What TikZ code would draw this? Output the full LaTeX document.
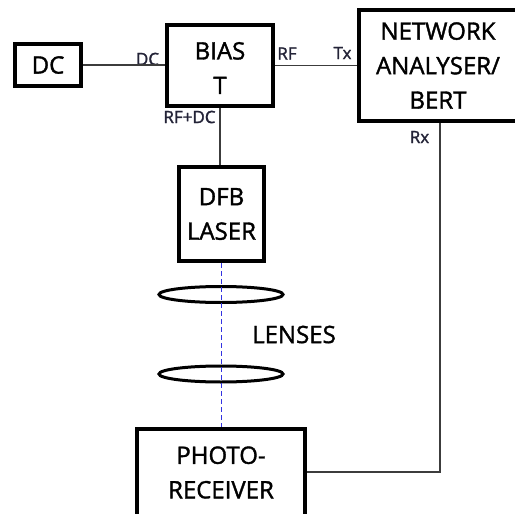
\documentclass[tikz,border=0pt]{standalone}
\usepackage{fontspec}
\setmainfont{Open Sans}[FakeBold=1.5]
\usetikzlibrary{positioning, shapes.geometric}

\definecolor{wiregray}{RGB}{60,60,60}
\definecolor{beamblue}{RGB}{50,50,225}
\definecolor{portink}{RGB}{35,35,55}

\begin{document}
\begin{tikzpicture}[x=1pt, y=-1pt,
    block/.style={draw, line width=4pt, inner sep=0pt, align=center, font=\fontsize{24}{34.5}\selectfont},
    bigtext/.style={font=\fontsize{24}{34.5}\selectfont, align=center, inner sep=0pt},
    lens/.style={ellipse, draw, line width=3pt, minimum width=124pt, minimum height=16pt, inner sep=0pt},
    port/.style={font=\fontsize{17}{20}\selectfont, text=portink, inner sep=0pt},
    wire/.style={wiregray, line width=1.2pt},
    beam/.style={beamblue, line width=1.4pt, dash pattern=on 5pt off 3pt}
]
    \useasboundingbox (0,0) rectangle (515,514);
    \clip (0,0) rectangle (515,514);

    % --- BLOCKS ---
    \node[block, minimum width=66pt, minimum height=42pt] (dc) at (48, 65) {DC};
    \node[block, minimum width=106pt, minimum height=81pt] (bias) at (220, 65.5) {};
    \node[bigtext] (bias-text) at (220, 68) {BIAS\\T};
    \node[block, minimum width=158pt, minimum height=111pt] (nwa) at (438, 65.5) {NETWORK\\ANALYSER/\\BERT};
    \node[block, minimum width=85pt, minimum height=94pt] (dfb) at (221.5, 214) {DFB\\LASER};
    % receiver box runs off the bottom edge
    \node[block, minimum width=168pt, minimum height=120pt] (photo) at (221, 489) {};
    \node[bigtext] (photo-text) at (221, 472.5) {PHOTO-\\RECEIVER};

    % --- LENSES ---
    \node[lens] (lens-a) at (221, 294.5) {};
    \node[lens] (lens-b) at (221, 374) {};
    \node[bigtext] (lenses) at (294, 334.5) {LENSES};

    % --- PORT LABELS ---
    \node[port] (dc-port) at (147.5, 59) {DC};
    \node[port] (rf-port) at (287, 53.5) {RF};
    \node[port] (tx-port) at (342.5, 53) {Tx};
    \node[port] (rfdc-port) at (189.5, 117) {RF+DC};
    \node[port] (rx-port) at (419.5, 137) {Rx};

    % --- CONNECTIONS ---
    \coordinate (rx-turn) at (440, 472);
    \draw[wire] (dc.east) -- (dc.east -| bias.west);
    \draw[wire] (bias.east) -- (bias.east -| nwa.west);
    \draw[wire] (bias.south) -- (bias.south |- dfb.north);
    \draw[wire] (nwa.south -| rx-turn) -- (rx-turn) -- (rx-turn -| photo.east);
    \draw[beam] (dfb.south) -- (dfb.south |- photo.north);

\end{tikzpicture}
\end{document}
